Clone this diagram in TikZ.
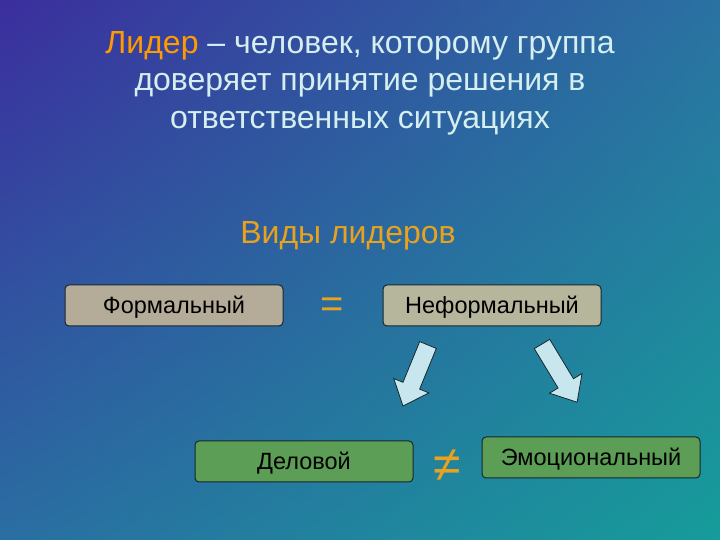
\documentclass[tikz,border=0pt]{standalone}
\usepackage{fontspec}
\setmainfont{Liberation Sans}
\usetikzlibrary{shadings}
\definecolor{bgUL}{HTML}{3B2E9E}
\definecolor{bgUR}{HTML}{2A72A2}
\definecolor{bgLL}{HTML}{2A6EA2}
\definecolor{bgLR}{HTML}{169C9A}
\definecolor{titlec}{HTML}{D5EEF0}
\definecolor{orangec}{HTML}{FF9A00}
\definecolor{headc}{HTML}{E8A21E}
\definecolor{grayA}{HTML}{B4AC98}
\definecolor{grayB}{HTML}{B6B69C}
\definecolor{greenc}{HTML}{5C9E55}
\definecolor{arrowc}{HTML}{C8E6EE}
\definecolor{edgec}{HTML}{17262C}
\tikzset{
  box/.style={draw=edgec, line width=1pt, rounded corners=4pt, minimum width=218pt, minimum height=41pt, inner sep=0pt, text height=16.8pt, text depth=0pt, font=\fontsize{23.5}{26}\selectfont, text=black},
  blockarrow/.style={draw=edgec, line width=0.8pt, fill=arrowc, line join=miter},
  sym/.style={text=headc, inner sep=0pt}
}
\begin{document}
\begin{tikzpicture}[x=1pt,y=1pt]
\useasboundingbox (0,0) rectangle (720,540);
\shade[upper left=bgUL, upper right=bgUR, lower left=bgLL, lower right=bgLR] (0,0) rectangle (720,540);
\node[align=center, text=titlec, font=\fontsize{32}{37.5}\selectfont] (title) at (360,457)
  {\textcolor{orangec}{Лидер} – человек, которому группа\\доверяет принятие решения в\\ответственных ситуациях};
\node[text=headc, font=\fontsize{32}{36}\selectfont] (kinds) at (348,304) {Виды лидеров};
\node[box, fill=grayA] (formal) at (174,234.5) {Формальный};
\node[box, fill=grayB] (informal) at (492,234.5) {Неформальный};
\node[box, fill=greenc] (business) at (304,78.5) {Деловой};
\node[box, fill=greenc] (emotional) at (591,82.5) {Эмоциональный};
\node[sym, font=\fontsize{40}{42}\selectfont] (eq) at (332,232) {=};
\node[sym, font=\fontsize{50}{52}\selectfont] (neq) at (447,74) {≠};
\begin{scope}[shift={(428,195)}, rotate=247.7]
  \draw[blockarrow] (0,-9) -- (44,-9) -- (44,-19) -- (66,0) -- (44,19) -- (44,9) -- (0,9) -- cycle;
\end{scope}
\begin{scope}[shift={(542,196)}, rotate=-58.9]
  \draw[blockarrow] (0,-9) -- (46,-9) -- (46,-19) -- (68,0) -- (46,19) -- (46,9) -- (0,9) -- cycle;
\end{scope}
\end{tikzpicture}
\end{document}
